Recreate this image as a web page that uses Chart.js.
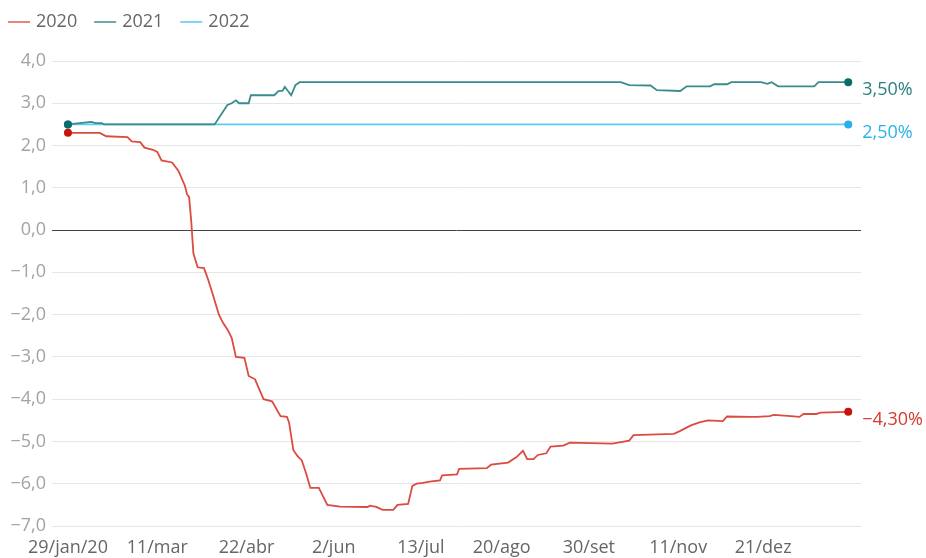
<!DOCTYPE html>
<html>
<head>
<meta charset="utf-8">
<script src="https://cdn.jsdelivr.net/npm/chart.js@4"></script>
<style>
  body { margin: 0; background: #fff; }
  #wrap { width: 926px; height: 558px; position: relative; }
</style>
</head>
<body>
<div id="wrap"><canvas id="chart"></canvas></div>
<script>
// ================= DATA =================
// x = days since 29/jan/2020, y = GDP forecast (%)

const tickDays = [0, 42, 84, 125, 166, 204, 245, 287, 327];
const tickLabels = ["29/jan/20", "11/mar", "22/abr", "2/jun", "13/jul", "20/ago", "30/set", "11/nov", "21/dez"];

const seriesNames = ["2020", "2021", "2022"];

const days2020 = [0, 15, 18, 28, 30, 34, 36, 40, 42, 44, 49, 52, 55, 56, 57, 58, 59, 61, 64, 66,
  68, 71, 73, 75, 77, 79, 83, 85, 88, 92, 96, 100, 103, 104, 106, 108, 110, 112, 114, 118,
  119, 122, 128, 141, 142, 145, 148, 153, 155, 160, 162, 164, 167, 170, 175, 176, 183, 184, 197, 199,
  207, 211, 214, 216, 219, 221, 225, 227, 233, 236, 256, 264, 266, 285, 288, 293, 297, 301, 308, 310,
  321, 324, 330, 332, 340, 344, 346, 352, 354, 367];
const gdp2020 = [2.30, 2.30, 2.22, 2.20, 2.10, 2.08, 1.95, 1.90, 1.85, 1.65, 1.60, 1.40, 1.05, 0.85, 0.78, 0.20, -0.55, -0.88, -0.90, -1.18,
  -1.50, -2.00, -2.20, -2.35, -2.55, -3.00, -3.02, -3.45, -3.53, -4.00, -4.05, -4.40, -4.42, -4.55, -5.20, -5.35, -5.45, -5.75, -6.10, -6.10,
  -6.20, -6.50, -6.54, -6.55, -6.52, -6.55, -6.62, -6.62, -6.50, -6.48, -6.05, -6.00, -5.98, -5.95, -5.92, -5.80, -5.78, -5.65, -5.63, -5.55,
  -5.50, -5.37, -5.22, -5.42, -5.42, -5.32, -5.28, -5.12, -5.10, -5.03, -5.05, -4.98, -4.85, -4.82, -4.75, -4.62, -4.55, -4.50, -4.52, -4.41,
  -4.42, -4.42, -4.40, -4.37, -4.40, -4.42, -4.35, -4.35, -4.32, -4.30];

const days2021 = [0, 11, 13, 16, 17, 69, 75, 77, 79, 80.5, 85, 86, 97, 99, 101, 102, 105, 107, 109, 260,
  264, 274, 277, 288, 291, 302, 304, 310, 312, 326, 329, 331, 334, 351, 353, 367];
const gdp2021 = [2.50, 2.56, 2.53, 2.53, 2.50, 2.50, 2.96, 3.00, 3.07, 3.00, 3.00, 3.19, 3.19, 3.29, 3.30, 3.39, 3.19, 3.43, 3.50, 3.50,
  3.43, 3.42, 3.31, 3.29, 3.40, 3.40, 3.45, 3.45, 3.50, 3.50, 3.46, 3.50, 3.40, 3.40, 3.50, 3.50];

const days2022 = [0, 367];
const gdp2022 = [2.50, 2.50];

// ================= STYLE =================

const lineColors = ["#dc4b40", "#3a8b8b", "#5ccbf3"];
const legendColors = ["#e8857c", "#6fa9a9", "#7fd6f6"];
const dotColors = ["#c8140e", "#0b6a6a", "#27b0ea"];
const labelColors = ["#d63a30", "#2c7f7f", "#2ab3ea"];

Chart.defaults.font.family = "'Open Sans', sans-serif";

function fmt(v, digits) {
  return v.toFixed(digits).replace(".", ",").replace("-", "\u2212");
}

function toPoints(days, vals) {
  return days.map((d, i) => ({ x: d, y: vals[i] }));
}

const allDays = [days2020, days2021, days2022];
const allVals = [gdp2020, gdp2021, gdp2022];

const datasets = seriesNames.map((name, i) => ({
  label: name,
  data: toPoints(allDays[i], allVals[i]),
  borderColor: lineColors[i],
  borderWidth: 1.8,
  tension: 0,
  pointBackgroundColor: dotColors[i],
  pointBorderWidth: 0,
  pointRadius: ctx => (ctx.dataIndex === 0 || ctx.dataIndex === allDays[i].length - 1) ? 4 : 0
}));

// legend drawn by hand so the spacing matches
const legendPlugin = {
  id: "lineLegend",
  afterDraw(chart) {
    const ctx = chart.ctx;
    ctx.save();
    ctx.font = "18px 'Open Sans'";
    ctx.textBaseline = "middle";
    let x = 8;
    const y = 22;
    seriesNames.forEach((name, i) => {
      ctx.strokeStyle = legendColors[i];
      ctx.lineWidth = 2;
      ctx.beginPath();
      ctx.moveTo(x, y);
      ctx.lineTo(x + 22, y);
      ctx.stroke();
      ctx.fillStyle = "#666";
      ctx.textAlign = "left";
      ctx.fillText(name, x + 28, y);
      x += 28 + ctx.measureText(name).width + 17;
    });
    ctx.restore();
  }
};

// value labels at the end of each line
const endLabels = {
  id: "endLabels",
  afterDatasetsDraw(chart) {
    const ctx = chart.ctx;
    ctx.save();
    ctx.font = "18px 'Open Sans'";
    ctx.textAlign = "left";
    ctx.textBaseline = "middle";
    chart.data.datasets.forEach((ds, i) => {
      const meta = chart.getDatasetMeta(i);
      const pt = meta.data[meta.data.length - 1];
      const v = allVals[i][allVals[i].length - 1];
      ctx.fillStyle = labelColors[i];
      ctx.fillText(fmt(v, 2) + "%", pt.x + 14, pt.y + 8);
    });
    ctx.restore();
  }
};

const chart = new Chart(document.getElementById("chart").getContext("2d"), {
  type: "line",
  data: { datasets: datasets },
  plugins: [legendPlugin, endLabels],
  options: {
    responsive: true,
    maintainAspectRatio: false,
    animation: false,
    layout: { padding: { top: 61, right: 65, bottom: 0, left: 0 } },
    plugins: {
      legend: { display: false },
      tooltip: { enabled: false }
    },
    scales: {
      x: {
        type: "linear",
        min: -7.5,
        max: 373,
        afterBuildTicks: scale => { scale.ticks = tickDays.map(v => ({ value: v })); },
        afterFit: scale => { scale.height = 32; },
        grid: { display: false, drawTicks: false },
        border: { display: false },
        ticks: {
          autoSkip: false,
          maxRotation: 0,
          padding: 11,
          color: "#666",
          font: { size: 18 },
          callback: v => tickLabels[tickDays.indexOf(v)]
        }
      },
      y: {
        min: -7,
        max: 4,
        afterFit: scale => { scale.width = 52; },
        grid: {
          drawTicks: false,
          color: ctx => ctx.tick.value === 0 ? "#444" : "#e6e6e6"
        },
        border: { display: false },
        ticks: {
          stepSize: 1,
          padding: 6,
          color: "#a3a3a3",
          font: { size: 18 },
          callback: v => fmt(v, 1)
        }
      }
    }
  }
});
</script>
</body>
</html>
